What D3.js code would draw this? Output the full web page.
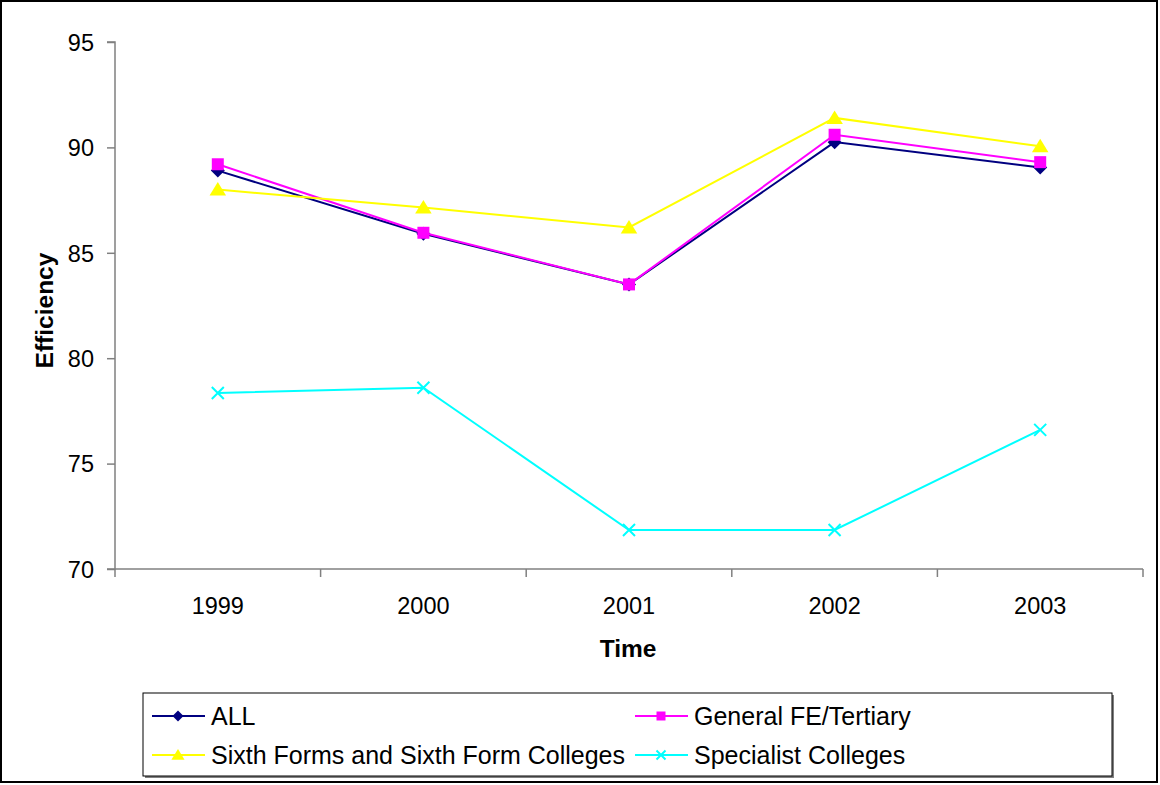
<!DOCTYPE html>
<html>
<head>
<meta charset="utf-8">
<script src="https://cdn.jsdelivr.net/npm/d3@7"></script>
<style>
  body { margin: 0; background: #fff; }
  svg text { font-family: "Liberation Sans", Arial, sans-serif; fill: #000; }
</style>
</head>
<body>
<div id="chart"></div>
<script>
// chart data
var years = ['1999', '2000', '2001', '2002', '2003'];
var allValues = [88.9, 85.9, 83.5, 90.25, 89.05];
var generalValues = [89.2, 85.95, 83.5, 90.6, 89.3];
var sixthValues = [88.0, 87.15, 86.2, 91.4, 90.05];
var specialistValues = [78.35, 78.6, 71.85, 71.85, 76.6];
var yTicks = [70, 75, 80, 85, 90, 95];

var series = [
  { name: 'ALL', values: allValues, color: '#000080', marker: 'diamond' },
  { name: 'General FE/Tertiary', values: generalValues, color: '#ff00ff', marker: 'square' },
  { name: 'Sixth Forms and Sixth Form Colleges', values: sixthValues, color: '#ffff00', marker: 'triangle' },
  { name: 'Specialist Colleges', values: specialistValues, color: '#00ffff', marker: 'cross' }
];

var W = 1160, H = 785;
var margin = { top: 42, right: 17, bottom: 216, left: 115 },
    width = W - margin.left - margin.right,
    height = H - margin.top - margin.bottom;

var svg = d3.select('#chart').append('svg')
    .attr('width', W)
    .attr('height', H);

// outer frame
svg.append('rect')
    .attr('x', 1).attr('y', 1)
    .attr('width', W - 4).attr('height', H - 4)
    .attr('fill', 'none')
    .attr('stroke', '#000')
    .attr('stroke-width', 2);

var g = svg.append('g')
    .attr('transform', 'translate(' + margin.left + ',' + margin.top + ')');

var x = d3.scaleBand().domain(years).range([0, width]);
var y = d3.scaleLinear().domain([70, 95]).range([height, 0]);

// y axis
var yAxis = g.append('g')
    .call(d3.axisLeft(y).tickValues(yTicks).tickSize(8).tickPadding(13));
yAxis.selectAll('path, line').attr('stroke', '#808080').attr('stroke-width', 1.5);
yAxis.select('.domain').attr('d', 'M-8,0H0V' + height + 'H-8');
yAxis.selectAll('text').style('font-size', '23.5px').attr('dy', '0.35em');

// x axis, ticks sit between the categories
var xAxis = g.append('g')
    .attr('transform', 'translate(0,' + height + ')')
    .call(d3.axisBottom(x).tickSize(0).tickPadding(28));
xAxis.select('.domain').attr('stroke', '#808080').attr('stroke-width', 1.5).attr('d', 'M0,0H' + width);
xAxis.selectAll('text').style('font-size', '23.5px');
g.selectAll('.xTick')
    .data(d3.range(years.length + 1))
    .enter()
    .append('line')
      .attr('class', 'xTick')
      .attr('x1', function(i) { return i * x.bandwidth(); })
      .attr('x2', function(i) { return i * x.bandwidth(); })
      .attr('y1', height)
      .attr('y2', height + 8)
      .attr('stroke', '#808080')
      .attr('stroke-width', 1.5);

// axis titles
g.append('text')
    .attr('transform', 'translate(-62,' + (height / 2 + 5) + ')rotate(-90)')
    .style('text-anchor', 'middle')
    .style('font-size', '24.5px')
    .style('font-weight', 'bold')
    .text('Efficiency');

g.append('text')
    .attr('x', width / 2 - 1)
    .attr('y', height + 88)
    .style('text-anchor', 'middle')
    .style('font-size', '24.5px')
    .style('font-weight', 'bold')
    .text('Time');

function markerPath(type, s) {
  if (type === 'diamond') return 'M0,' + (-s) + 'L' + s + ',0L0,' + s + 'L' + (-s) + ',0Z';
  if (type === 'square') return 'M' + (-s) + ',' + (-s) + 'H' + s + 'V' + s + 'H' + (-s) + 'Z';
  if (type === 'triangle') return 'M0,' + (-s) + 'L' + (s * 1.1) + ',' + (s * 0.8) + 'H' + (-s * 1.1) + 'Z';
  return 'M' + (-s) + ',' + (-s) + 'L' + s + ',' + s + 'M' + s + ',' + (-s) + 'L' + (-s) + ',' + s;
}

function drawMarker(sel, d, size) {
  var p = sel.append('path')
      .attr('d', markerPath(d.marker, size));
  if (d.marker === 'cross') {
    p.attr('fill', 'none').attr('stroke', d.color).attr('stroke-width', 2);
  } else {
    p.attr('fill', d.color).attr('stroke', 'none');
  }
}

var line = d3.line()
    .x(function(v, i) { return x(years[i]) + x.bandwidth() / 2; })
    .y(function(v) { return y(v); });

var sizes = { diamond: 7, square: 6, triangle: 7.5, cross: 6 };

series.forEach(function(s) {
  g.append('path')
      .datum(s.values)
      .attr('d', line)
      .attr('fill', 'none')
      .attr('stroke', s.color)
      .attr('stroke-width', 2);

  s.values.forEach(function(v, i) {
    var m = g.append('g')
        .attr('transform', 'translate(' + (x(years[i]) + x.bandwidth() / 2) + ',' + y(v) + ')');
    drawMarker(m, s, sizes[s.marker]);
  });
});

// legend
var legend = svg.append('g').attr('transform', 'translate(143,693)');
legend.append('rect')
    .attr('x', 2).attr('y', 2)
    .attr('width', 969).attr('height', 83)
    .attr('fill', '#808080');
legend.append('rect')
    .attr('width', 969).attr('height', 83)
    .attr('fill', '#fff')
    .attr('stroke', '#000')
    .attr('stroke-width', 1);

var legendItems = legend.selectAll('.legendItem')
    .data(series)
    .enter()
    .append('g')
      .attr('class', 'legendItem')
      .attr('transform', function(d, i) {
        return 'translate(' + (i % 2 === 0 ? 9 : 492) + ',' + (i < 2 ? 23 : 62) + ')';
      });

legendItems.append('line')
    .attr('x1', 0).attr('x2', 53)
    .attr('stroke', function(d) { return d.color; })
    .attr('stroke-width', 2);

legendItems.each(function(d) {
  var m = d3.select(this).append('g').attr('transform', 'translate(26,0)');
  drawMarker(m, d, sizes[d.marker] - 1.5);
});

legendItems.append('text')
    .attr('x', 59)
    .attr('dy', '0.35em')
    .style('font-size', '25px')
    .text(function(d) { return d.name; });
</script>
</body>
</html>
